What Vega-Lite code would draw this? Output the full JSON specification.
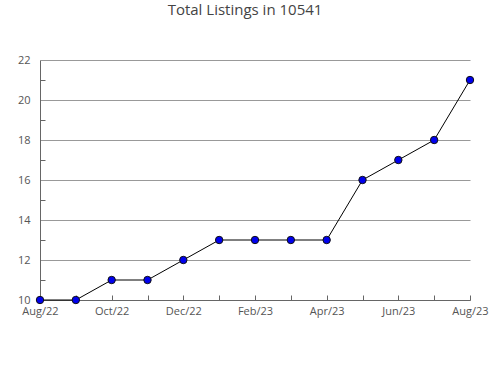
{
  "$schema": "https://vega.github.io/schema/vega-lite/v6.json",
  "autosize": "none",
  "width": 430,
  "height": 240,
  "padding": {"left": 40, "top": 60, "right": 20, "bottom": 80},
  "background": "white",
  "title": {"text": "Total Listings in 10541", "font": "Open Sans", "fontSize": 15, "fontWeight": "normal", "color": "#444", "anchor": "middle", "offset": 36, "dx": -10},
  "config": {"view": {"stroke": null}},
  "data": {"values": [
    {"month": "Aug/22", "listings": 10},
    {"month": "Sep/22", "listings": 10},
    {"month": "Oct/22", "listings": 11},
    {"month": "Nov/22", "listings": 11},
    {"month": "Dec/22", "listings": 12},
    {"month": "Jan/23", "listings": 13},
    {"month": "Feb/23", "listings": 13},
    {"month": "Mar/23", "listings": 13},
    {"month": "Apr/23", "listings": 13},
    {"month": "May/23", "listings": 16},
    {"month": "Jun/23", "listings": 17},
    {"month": "Jul/23", "listings": 18},
    {"month": "Aug/23", "listings": 21}
  ]},
  "encoding": {
    "x": {"field": "month", "type": "ordinal", "sort": null,
      "scale": {"type": "point", "padding": 0},
      "axis": {"title": null, "labelAngle": 0, "labelFont": "Open Sans", "labelFontSize": 11, "labelColor": "#555",
        "labelExpr": "indexof(['Aug/22','Oct/22','Dec/22','Feb/23','Apr/23','Jun/23','Aug/23'], datum.value) >= 0 ? datum.value : ''",
        "labelPadding": 10, "tickSize": -5, "tickColor": "#666", "domainColor": "#666", "grid": false, "labelOverlap": false}},
    "y": {"field": "listings", "type": "quantitative",
      "scale": {"domain": [10, 22], "nice": false, "zero": false},
      "axis": {"title": null, "values": [10,11,12,13,14,15,16,17,18,19,20,21,22],
        "labelFont": "Open Sans", "labelFontSize": 11, "labelColor": "#555", "labelPadding": 10,
        "labelExpr": "datum.value % 2 == 0 ? datum.value : ''",
        "tickSize": {"condition": {"test": "datum.value % 2 == 0", "value": 0}, "value": -5},
        "tickColor": "#666", "domainColor": "#666",
        "grid": true, "gridColor": "#999",
        "gridOpacity": {"condition": {"test": "datum.value % 2 == 0", "value": 1}, "value": 0}}}
  },
  "layer": [
    {"mark": {"type": "line", "color": "black", "strokeWidth": 1}},
    {"mark": {"type": "point", "shape": "circle", "filled": true, "fill": "#0000ee", "stroke": "#111", "strokeWidth": 1, "size": 55, "opacity": 1}}
  ]
}
